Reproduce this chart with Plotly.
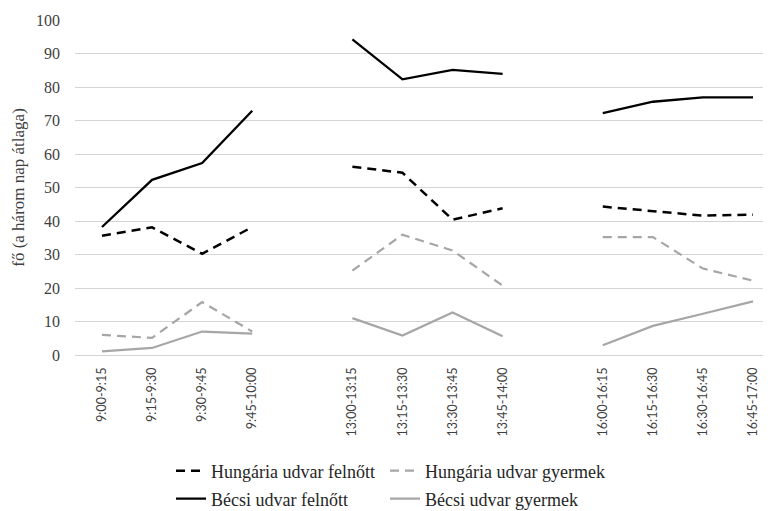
import plotly.graph_objects as go

categories = ["9:00-9:15", "9:15-9:30", "9:30-9:45", "9:45-10:00", " ",
              "13:00-13:15", "13:15-13:30", "13:30-13:45", "13:45-14:00", "  ",
              "16:00-16:15", "16:15-16:30", "16:30-16:45", "16:45-17:00"]

hungaria_felnott = [35.6, 38.1, 30.2, 38.2, None, 56.2, 54.4, 40.4, 43.8, None, 44.3, 43.0, 41.6, 41.9]
hungaria_gyermek = [6.0, 5.1, 15.8, 7.0, None, 25.2, 35.9, 31.2, 20.7, None, 35.2, 35.2, 25.8, 22.2]
becsi_felnott = [38.2, 52.3, 57.3, 72.9, None, 94.2, 82.3, 85.1, 83.9, None, 72.2, 75.6, 76.9, 76.9]
becsi_gyermek = [1.1, 2.1, 7.0, 6.4, None, 11.0, 5.8, 12.7, 5.6, None, 2.9, 8.7, 12.3, 16.0]

y_title = "fő (a három nap átlaga)"
y_ticks = [0, 10, 20, 30, 40, 50, 60, 70, 80, 90, 100]

BLACK = "#000000"
GRAY = "#a6a6a6"

# the page body has an 8px default margin, so the figure is sized to fit the window
W, H = 763, 503

fig = go.Figure()
fig.add_trace(go.Scatter(x=categories, y=hungaria_felnott, mode="lines", name="Hungária udvar felnőtt",
                         line=dict(color=BLACK, width=2.5, dash="9px,6px"), legend="legend"))
fig.add_trace(go.Scatter(x=categories, y=hungaria_gyermek, mode="lines", name="Hungária udvar gyermek",
                         line=dict(color=GRAY, width=2.2, dash="9px,6px"), legend="legend2"))
fig.add_trace(go.Scatter(x=categories, y=becsi_felnott, mode="lines", name="Bécsi udvar felnőtt",
                         line=dict(color=BLACK, width=2.3), legend="legend3"))
fig.add_trace(go.Scatter(x=categories, y=becsi_gyermek, mode="lines", name="Bécsi udvar gyermek",
                         line=dict(color=GRAY, width=2.2), legend="legend4"))

def leg(x, y):
    return dict(orientation="h", xanchor="left", yanchor="middle",
                xref="container", yref="container", x=x, y=y,
                font=dict(family="Liberation Serif", size=18, color="#262626"),
                bgcolor="rgba(0,0,0,0)", itemclick=False, itemdoubleclick=False)

col1, col2 = 163 / W, 377 / W
row1, row2 = 1 - 463 / H, 1 - 491 / H

fig.update_layout(
    width=W, height=H,
    margin=dict(l=67, r=0, t=12, b=156, autoexpand=False),
    paper_bgcolor="white", plot_bgcolor="white",
    showlegend=True,
    legend=leg(col1, row1),
    legend2=leg(col2, row1),
    legend3=leg(col1, row2),
    legend4=leg(col2, row2),
    xaxis=dict(type="category", categoryorder="array", categoryarray=categories,
               range=[-0.539, 13.359], tickangle=-90, showgrid=False, showline=False,
               zeroline=False, ticks="", ticklabelstandoff=9, automargin=False,
               tickfont=dict(family="Lato", size=12.5, color="#404040")),
    yaxis=dict(range=[0, 100], tickvals=y_ticks, showgrid=True, gridcolor="#d4d4d4",
               gridwidth=1, zeroline=True, zerolinecolor="#d4d4d4", zerolinewidth=1,
               showline=False, ticks="", ticklabelstandoff=14, automargin=False,
               tickfont=dict(family="Liberation Serif", size=16, color="#404040"),
               title=dict(text=y_title, standoff=7,
                          font=dict(family="Liberation Serif", size=17, color="#404040"))),
)

fig.write_html("out.html")
